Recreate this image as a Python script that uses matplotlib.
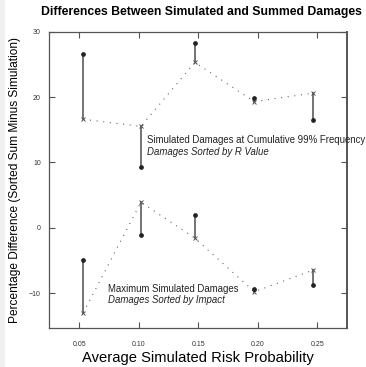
# Differences between simulated and summed damages

import numpy as np
import matplotlib.pyplot as plt
from matplotlib.patches import Rectangle

plt.rcParams['font.family'] = ['Liberation Sans', 'DejaVu Sans']

# average simulated risk probability
risk_prob = [0.0534, 0.1018, 0.1471, 0.1971, 0.2463]

# cumulative 99% frequency series (sorted by R value)
freq_summed = [26.6, 9.3, 28.2, 19.9, 16.5]
freq_simulated = [16.6, 15.5, 25.3, 19.3, 20.6]

# maximum damages series (sorted by impact)
max_summed = [-5.0, -1.1, 1.9, -9.45, -8.8]
max_simulated = [-13.0, 3.9, -1.6, -9.8, -6.5]

x_ticks = [0.05, 0.10, 0.15, 0.20, 0.25]
y_ticks = [-10, 0, 10, 20, 30]


def draw_series(ax, x, summed, simulated):
    for xi, a, b in zip(x, summed, simulated):
        ax.plot([xi, xi], [a, b], '-', color='#4d4d4d', linewidth=1.1, zorder=2)
    ax.plot(x, simulated, color='#666666', linestyle=(0, (1, 5)),
            linewidth=0.8, zorder=1)
    ax.plot(x, simulated, 'x', color='#555555', markersize=3,
            markeredgewidth=0.7, zorder=3)
    ax.plot(x, summed, 'o', color='#222222', markersize=2.4, zorder=3)


def main():
    fig = plt.figure(figsize=(3.66, 3.67), dpi=100)
    fig.patches.append(Rectangle((0, 0), 5 / 366, 1, transform=fig.transFigure,
                                 facecolor='#f0f0f0', edgecolor='none'))
    ax = fig.add_axes([0.1347, 0.1054, 0.8126, 0.8082])

    draw_series(ax, risk_prob, freq_summed, freq_simulated)
    draw_series(ax, risk_prob, max_summed, max_simulated)

    ax.text(0.107, 13.4, 'Simulated Damages at Cumulative 99% Frequency',
            fontsize=6.9, va='center', ha='left', color='#222222', clip_on=False)
    ax.text(0.107, 11.6, 'Damages Sorted by R Value', fontsize=6.9,
            style='italic', va='center', ha='left', color='#222222')
    ax.text(0.0744, -9.4, 'Maximum Simulated Damages', fontsize=6.9,
            va='center', ha='left', color='#222222')
    ax.text(0.0744, -11.1, 'Damages Sorted by Impact', fontsize=6.9,
            style='italic', va='center', ha='left', color='#222222')

    ax.set_xlim(0.0248, 0.2747)
    ax.set_ylim(-15.4, 30)
    ax.set_xticks(x_ticks)
    ax.set_xticklabels(['%.2f' % v for v in x_ticks])
    ax.set_yticks(y_ticks)
    ax.tick_params(direction='in', length=4, width=0.8, color='#555555',
                   labelsize=5, labelcolor='#333333', top=True, right=True)
    ax.tick_params(axis='x', pad=9)
    ax.tick_params(axis='y', pad=6)
    for s in ax.spines.values():
        s.set_color('#555555')
        s.set_linewidth(0.9)
    ax.spines['right'].set_linewidth(1.4)

    fig.text(0.551, 0.967, 'Differences Between Simulated and Summed Damages',
             fontsize=8.85, fontweight='bold', ha='center', va='center')
    ax.set_xlabel('Average Simulated Risk Probability', fontsize=10.6, labelpad=2)
    ax.set_ylabel('Percentage Difference (Sorted Sum Minus Simulation)',
                  fontsize=8.55, labelpad=6)

    plt.savefig('out.png', dpi=100)


if __name__ == '__main__':
    main()
